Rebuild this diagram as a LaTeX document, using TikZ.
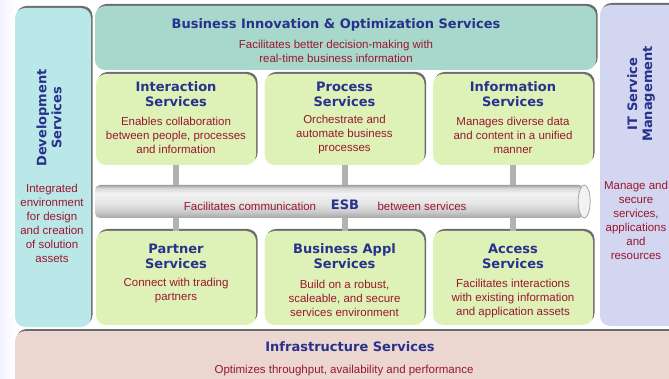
\documentclass[tikz,border=0pt]{standalone}
\usepackage{fontspec}
\setmainfont{Liberation Sans}
\newfontfamily\headfont{DejaVu Sans}
\usetikzlibrary{positioning,shadows}

\definecolor{headblue}{RGB}{40,50,140}
\definecolor{bodyred}{RGB}{155,22,45}
\definecolor{devcyan}{RGB}{186,232,232}
\definecolor{biogreen}{RGB}{168,216,204}
\definecolor{itlav}{RGB}{210,214,240}
\definecolor{svcgreen}{RGB}{222,242,184}
\definecolor{infrapink}{RGB}{236,214,208}

\pgfdeclareverticalshading{esbtube}{100bp}{color(0bp)=(gray!70); color(25bp)=(gray!70);
  color(35bp)=(gray!40); color(48bp)=(gray!20); color(62bp)=(gray!10); color(70bp)=(gray!30);
  color(75bp)=(gray!75); color(100bp)=(gray!75)}

\tikzset{
  layer/.style={rounded corners=10pt, inner sep=0pt, draw=none,
    drop shadow={shadow xshift=1.5pt, shadow yshift=2pt, fill=gray!85!black, opacity=1}},
  svc/.style={layer, fill=svcgreen, minimum width=160pt},
  head/.style={font=\headfont\bfseries\fontsize{13}{15}\selectfont, text=headblue, align=center, inner sep=0pt},
  body/.style={font=\fontsize{11.5}{14}\selectfont, text=bodyred, align=center, inner sep=0pt},
  tube/.style={rounded corners=5pt, inner sep=0pt, shading=esbtube},
  bar/.style={line width=6pt, draw=gray!60},
}

\begin{document}
\begin{tikzpicture}[x=1pt,y=-1pt]
  \useasboundingbox (0,0) rectangle (669,379);
  % faint page edge
  \shade[left color=blue!5, right color=white] (0,0) rectangle (15,379);

  % Layers round the services
  \node[layer, fill=devcyan, minimum width=76pt, minimum height=319pt] (dev) at (53,167.5) {};
  \node[layer, fill=itlav, minimum width=100pt, minimum height=321pt] (itsm) at (650,165.5) {};
  \node[layer, fill=biogreen, minimum width=501pt, minimum height=64pt] (bio) at (345.5,38) {};
  \node[layer, fill=infrapink, minimum width=685pt, minimum height=70pt] (infra) at (357.5,366) {};

  \node[head, rotate=90] (devT) at (49,118) {Development\\Services};
  \node[body] (devB) at (52,223) {Integrated\\environment\\for design\\and creation\\of solution\\assets};
  \node[head, rotate=90] (itsmT) at (641,94) {IT Service\\Management};
  \node[body] (itsmB) at (636,220.5) {Manage and\\secure\\services,\\applications\\and\\resources};
  \node[head] (bioT) at (336,25) {Business Innovation \& Optimization Services};
  \node[body] (bioB) at (336,51) {Facilitates better decision-making with\\real-time business information};
  \node[head] (infraT) at (350,347) {Infrastructure Services};
  \node[body] (infraB) at (344,371) {Optimizes throughput, availability and performance};

  % Upper services
  \foreach \nm/\cx/\ttl/\txt in {
      inter/176/{Interaction\\Services}/{Enables collaboration\\between people, processes\\and information},
      proc/344.5/{Process\\Services}/{Orchestrate and\\automate business\\processes},
      info/513/{Information\\Services}/{Manages diverse data\\and content in a unified\\manner}}
    {\node[svc, minimum height=91pt] (\nm) at (\cx,119.5) {};
     \node[head] (\nm T) at (\cx,94.5) {\ttl};
     \node[body] (\nm B) at (\cx,135) {\txt};}

  % Lower services
  \foreach \nm/\cx/\by/\ttl/\txt in {
      partner/176/291/{Partner\\Services}/{Connect with trading\\partners},
      bapp/344.5/298.5/{Business Appl\\Services}/{Build on a robust,\\scaleable, and secure\\services environment},
      access/513/299/{Access\\Services}/{Facilitates interactions\\with existing information\\and application assets}}
    {\node[svc, minimum height=94pt] (\nm) at (\cx,278) {};
     \node[head] (\nm T) at (\cx,256) {\ttl};
     \node[body] (\nm B) at (\cx,\by) {\txt};}

  % ESB
  \node[tube, minimum width=489pt, minimum height=33pt] (esb) at (339.5,201.5) {};
  \draw[fill=gray!10, draw=gray!70, line width=0.8pt] (esb.east) ellipse (6pt and 16.5pt);
  \node[body] (esbL) at (250,206) {Facilitates communication};
  \node[head] (esbT) at (345,205) {ESB};
  \node[body] (esbR) at (422,206) {between services};

  % Links to the bus
  \foreach \b in {inter,proc,info}
    \draw[bar] (\b.south) -- (\b.south |- esb.north);
  \foreach \b in {partner,bapp,access}
    \draw[bar] (\b.north) -- (\b.north |- esb.south);
\end{tikzpicture}
\end{document}
